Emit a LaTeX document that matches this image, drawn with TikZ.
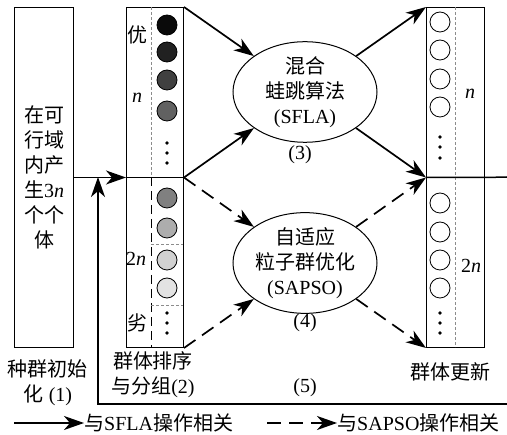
\documentclass[tikz,border=0pt]{standalone}
\usepackage{fontspec}
\setmainfont{Liberation Serif}
\newfontfamily\cjk{Noto Sans CJK SC}
\usetikzlibrary{arrows.meta,shapes.geometric}
\begin{document}
\begin{tikzpicture}[x=1pt,y=-1pt,
  font=\fontsize{20}{25}\selectfont,
  box/.style={draw, line width=1pt, inner sep=0pt, anchor=north west},
  arr/.style={line width=1.7pt, -{Stealth[length=20pt,width=14pt,inset=6pt]}},
  darr/.style={arr, dash pattern=on 14pt off 8pt},
  mainline/.style={line width=1.5pt},
  gdash/.style={draw=black!45, line width=0.6pt, dash pattern=on 3pt off 2pt},
  kdash/.style={draw=black, line width=1pt, dash pattern=on 9pt off 5pt},
  ball/.style={circle, draw, line width=0.8pt, inner sep=0pt, minimum size=20pt},
  dotn/.style={circle, fill, inner sep=0pt, minimum size=3.8pt},
  oval/.style={ellipse, draw, line width=1pt, inner sep=0pt, align=center,
    minimum width=144pt},
  lbl/.style={inner sep=0pt, align=center}
]
\useasboundingbox (0,0) rectangle (507,435);

% boxes
\node[box, minimum width=59pt, minimum height=340pt, align=center] (initbox) at (14,7)
  {{\cjk 在可}\\{\cjk 行域}\\{\cjk 内产}\\{\cjk 生}3\textit{n}\\{\cjk 个个}\\{\cjk 体}};
\node[box, minimum width=57pt, minimum height=340pt] (rankbox) at (126,7) {};
\node[box, minimum width=58pt, minimum height=340pt] (updbox) at (426,7) {};

% internal dividers
\draw[gdash] (151,7) -- (151,177);
\draw[kdash] (151,177) -- (151,347);
\draw[gdash] (151,244) -- (183,244);
\draw[gdash] (151,305) -- (183,305);
\draw[gdash] (455,7) -- (455,347);

% ranking circles
\node[ball, fill=black!96] (r1) at (167,25) {};
\node[ball, fill=black!87] (r2) at (167,52) {};
\node[ball, fill=black!75] (r3) at (167,80) {};
\node[ball, fill=black!62] (r4) at (167,111) {};
\node[dotn] (rd1) at (167,143) {};
\node[dotn] (rd2) at (167,153) {};
\node[dotn] (rd3) at (167,163) {};
\node[ball, fill=black!50] (r5) at (167,198) {};
\node[ball, fill=black!32] (r6) at (167,228) {};
\node[ball, fill=black!18] (r7) at (167,260) {};
\node[ball, fill=black!11] (r8) at (167,288) {};
\node[dotn] (rd4) at (167,313) {};
\node[dotn] (rd5) at (167,323) {};
\node[dotn] (rd6) at (167,333) {};

% update circles
\node[ball, fill=white] (u1) at (440,22) {};
\node[ball, fill=white] (u2) at (440,50) {};
\node[ball, fill=white] (u3) at (440,79) {};
\node[ball, fill=white] (u4) at (440,107) {};
\node[dotn] (ud1) at (440,137) {};
\node[dotn] (ud2) at (440,147) {};
\node[dotn] (ud3) at (440,158) {};
\node[ball, fill=white] (u5) at (440,203) {};
\node[ball, fill=white] (u6) at (440,232) {};
\node[ball, fill=white] (u7) at (440,260) {};
\node[ball, fill=white] (u8) at (440,288) {};
\node[dotn] (ud4) at (440,313) {};
\node[dotn] (ud5) at (440,323) {};
\node[dotn] (ud6) at (440,333) {};

% labels inside boxes
\node[lbl] (you) at (137,35) {\cjk 优};
\node[lbl] (rn) at (137,98) {\textit{n}};
\node[lbl] (r2n) at (136,259) {2\textit{n}};
\node[lbl] (lie) at (137,323) {\cjk 劣};
\node[lbl] (un) at (470,94) {\textit{n}};
\node[lbl] (u2n) at (471,266) {2\textit{n}};

% ellipses
\node[oval, minimum height=98pt] (sfla) at (305,92)
  {{\cjk 混合}\\{\cjk 蛙跳算法}\\(SFLA)};
\node[oval, minimum height=93pt] (sapso) at (305,263)
  {{\cjk 自适应}\\{\cjk 粒子群优化}\\(SAPSO)};
\node[lbl] (n3) at (300,155) {(3)};
\node[lbl] (n4) at (305,323) {(4)};
\node[lbl] (n5) at (305,388) {(5)};

% bottom captions
\node[lbl] (cap1) at (48,383) {{\cjk 种群初始}\\{\cjk 化} (1)};
\node[lbl] (cap2) at (153,375) {{\cjk 群体排序}\\{\cjk 与分组}(2)};
\node[lbl] (cap3) at (450,372) {\cjk 群体更新};

% middle lines and loop
\coordinate (edgeR) at (507,177);
\coordinate (loopR) at (507,404);
\coordinate (loopL) at (98,404);
\coordinate (loopT) at (98,177);
\draw[mainline] (rankbox.west) -- (rankbox.east);
\draw[mainline] (updbox.west) -- (updbox.east) -- (edgeR);
\draw[arr, line width=1.5pt] (initbox.east) -- (rankbox.west);
\draw[arr, line width=1.5pt] (loopR) -- (loopL) -- (loopT);

% flow arrows
\draw[arr] (rankbox.north east) -- (sfla);
\draw[arr] (rankbox.east) -- (sfla);
\draw[darr] (rankbox.east) -- (sapso);
\draw[darr] (rankbox.south east) -- (sapso);
\draw[arr] (sfla) -- (updbox.north west);
\draw[arr] (sfla) -- (updbox.west);
\draw[darr] (sapso) -- (updbox.west);
\draw[darr] (sapso) -- (updbox.south west);

% legend
\coordinate (l1a) at (14,423);
\coordinate (l1b) at (84,423);
\coordinate (l2a) at (267,423);
\coordinate (l2b) at (337,423);
\draw[arr] (l1a) -- (l1b);
\node[lbl, anchor=west] (leg1) at (l1b) {{\cjk 与}SFLA{\cjk 操作相关}};
\draw[darr] (l2a) -- (l2b);
\node[lbl, anchor=west] (leg2) at (l2b) {{\cjk 与}SAPSO{\cjk 操作相关}};
\end{tikzpicture}
\end{document}
